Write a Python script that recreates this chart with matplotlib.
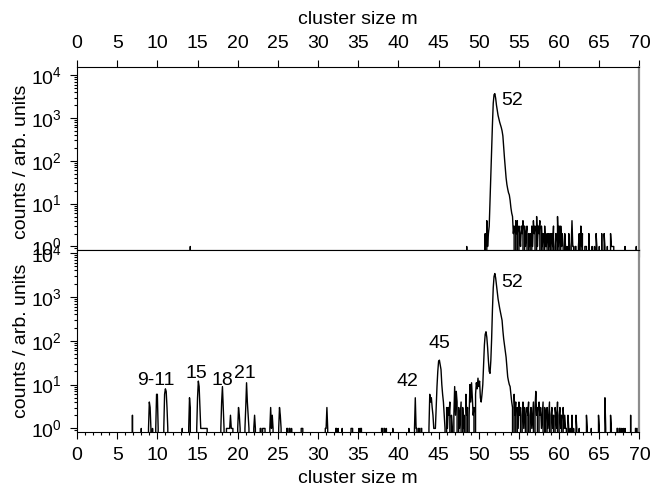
import numpy as np
import matplotlib
matplotlib.use("Agg")
import matplotlib.pyplot as plt
from matplotlib.ticker import MultipleLocator, LogLocator, NullFormatter

plt.rcParams["font.family"] = "Liberation Sans"
plt.rcParams["mathtext.fontset"] = "custom"
plt.rcParams["mathtext.rm"] = "Liberation Sans"
plt.rcParams["mathtext.it"] = "Liberation Sans:italic"
plt.rcParams["mathtext.bf"] = "Liberation Sans:bold"

# mass axis: 0.1 bins from 0 to 70
mass = np.arange(701) / 10.0

# --- upper spectrum: runs of (first mass, counts per 0.1 bin) ---
top_isolated = [(14.1, [1]), (48.5, [1]), (68.2, [1]), (69.6, [1])]
top_peak = (50.8, [2, 0, 4, 1, 2, 3, 12, 50, 180, 700, 2200, 3500, 3700, 2900,
                   2000, 1500, 1150, 950, 800, 690, 600, 500, 380, 200, 115, 70,
                   40, 28, 22, 18, 16, 12, 8, 6, 5, 2])
top_tail = (54.4, [3, 0, 4, 2, 4, 0, 3, 2, 1, 3,
                   2, 4, 0, 3, 1, 2, 3, 0, 2, 1,
                   2, 0, 3, 1, 4, 2, 3, 0, 5, 1,
                   3, 2, 4, 0, 3, 1, 2, 0, 3, 1,
                   1, 2, 0, 2, 1, 2, 0, 2, 1, 3,
                   0, 1, 2, 0, 5, 1, 3, 0, 3, 1,
                   2, 1, 0, 2, 1, 0, 1, 0, 2, 1,
                   0, 1, 4, 1, 1, 0, 1, 1, 0, 0,
                   1, 2, 0, 3, 1, 2, 0, 0, 1, 1,
                   1, 0, 0, 2, 0, 0, 0, 1, 0, 0,
                   1, 0, 2, 1, 0, 0, 1, 0, 0, 2,
                   0, 0, 2, 1, 0, 0, 1, 0, 0, 0,
                   2, 1, 1, 1, 1])

# --- lower spectrum ---
bottom_small = [(6.9, [2]), (8.0, [1]), (8.9, [1, 4, 3, 1]), (9.4, [1]),
                (9.8, [1, 6, 6, 1]), (10.8, [1, 6, 8, 7, 3, 1]), (13.1, [1]),
                (13.9, [1, 5, 3]),
                (14.9, [1, 5, 12, 9, 3, 1, 1, 1, 1, 1, 1, 1, 1, 1]),
                (17.9, [1, 4, 9, 3, 1]), (18.6, [1, 1, 1, 1, 1, 2, 1, 1, 1]),
                (20.0, [1, 3, 2, 1]), (20.9, [1, 3, 11, 4, 2, 1]),
                (22.0, [1, 2, 1]), (22.8, [1, 1, 0, 1, 1, 1, 1]),
                (24.0, [1, 3, 1, 2, 1]), (25.1, [1, 3, 2, 1]),
                (26.1, [1, 1, 0, 1, 1, 0, 1]), (27.9, [1, 1, 1]),
                (30.9, [1, 1, 3, 1]), (32.2, [1, 1, 0, 1]), (33.0, [1]),
                (34.1, [1, 1, 1]), (35.1, [1, 0, 1, 1]),
                (37.9, [1, 1, 0, 1, 1, 0, 1]), (39.3, [1]), (41.3, [1]),
                (42.0, [1, 5, 1, 1, 0, 1, 1, 0, 1, 1])]
bottom_mid = (43.8, [1, 6, 4, 5, 3, 2, 1, 1, 1, 3,
                     9, 20, 34, 36, 28, 22, 10, 6, 4, 2,
                     1, 0, 3, 1, 3, 2, 4, 0, 2, 1,
                     0, 2, 9, 2, 7, 4, 0, 3, 1, 2,
                     4, 0, 3, 1, 2, 0, 6, 2, 3, 0,
                     2, 10, 4, 11, 5, 2, 3, 0, 6, 11,
                     8, 14, 9, 12, 5, 4])
bottom_peak = (50.4, [6, 10, 30, 80, 140, 160, 120, 70, 35, 20, 18, 35, 110,
                      500, 1600, 2900, 3400, 2700, 1900, 1300, 900, 700, 550,
                      440, 360, 290, 170, 110, 80, 60, 42, 25, 15, 12, 10, 9,
                      6, 4])
bottom_tail = (54.2, [3, 0, 6, 2, 4, 0, 3, 1, 4, 2,
                      3, 0, 2, 4, 1, 3, 2, 0, 3, 2,
                      4, 0, 2, 3, 1, 2, 4, 0, 3, 7,
                      2, 3, 0, 4, 2, 3, 1, 2, 4, 0,
                      3, 2, 0, 3, 1, 2, 4, 0, 2, 3,
                      1, 2, 0, 3, 2, 1, 4, 0, 2, 3,
                      1, 2, 0, 3, 1, 2, 1, 1, 0, 2,
                      1, 0, 1, 0, 2, 0, 1, 0, 0, 2,
                      1, 0, 0, 1])
bottom_far = [(63.4, [2, 1]), (64.0, [1]), (64.9, [2, 1]), (65.7, [5, 1]),
              (66.4, [2, 1]), (67.2, [1, 1, 0, 1, 1, 0, 1, 0, 1, 0, 1]),
              (68.9, [2]), (69.5, [1, 1, 0, 1, 1, 1])]

top_labels = [("52", 54.2, 2600)]
bottom_labels = [("52", 54.2, 2100), ("45", 45.1, 85), ("42", 41.1, 12),
                 ("9-11", 9.85, 12.5), ("15", 14.8, 18), ("18", 18.1, 12.5),
                 ("21", 20.9, 17.5)]


def spectrum(runs):
    counts = np.zeros(len(mass))
    for start, vals in runs:
        i0 = int(round(start * 10))
        counts[i0:i0 + len(vals)] = vals
    return counts


top_counts = spectrum(top_isolated + [top_peak, top_tail])
bottom_counts = spectrum(bottom_small + [bottom_mid, bottom_peak, bottom_tail]
                         + bottom_far)

fig = plt.figure(figsize=(6.52, 4.9), dpi=100)
ax_top = fig.add_axes([0.1181, 0.4908, 0.8627, 0.3725])
ax_bot = fig.add_axes([0.1181, 0.1184, 0.8627, 0.3724])

FS = 14
for ax, counts, ylim in [(ax_top, top_counts, (0.85, 1.55e4)),
                         (ax_bot, bottom_counts, (0.83, 1.2e4))]:
    ax.plot(mass, counts, color="black", lw=1.0)
    ax.set_yscale("log")
    ax.set_xlim(0, 70)
    ax.set_ylim(*ylim)
    ax.xaxis.set_major_locator(MultipleLocator(5))
    ax.xaxis.set_minor_locator(MultipleLocator(1))
    ax.yaxis.set_major_locator(LogLocator(base=10, numticks=10))
    ax.yaxis.set_minor_locator(LogLocator(base=10, subs=np.arange(2, 10), numticks=20))
    ax.yaxis.set_minor_formatter(NullFormatter())
    ax.tick_params(axis="both", which="both", direction="out", labelsize=FS,
                   width=0.8, pad=6)
    ax.tick_params(axis="both", which="major", length=5)
    ax.tick_params(axis="both", which="minor", length=2.5)
    ax.tick_params(axis="y", right=False)
    for side in ["left", "top", "bottom"]:
        ax.spines[side].set_linewidth(0.8)
    ax.spines["right"].set_color("#8c8c8c")
    ax.spines["right"].set_linewidth(1.6)
    ax.set_ylabel("counts / arb. units", fontsize=FS)
    ax.yaxis.label.set_va("center")

ax_top.tick_params(axis="x", top=True, bottom=True, labeltop=True, labelbottom=False)
ax_top.xaxis.set_label_position("top")
ax_top.set_xlabel("cluster size m", fontsize=FS, labelpad=8)
ax_top.yaxis.set_label_coords(-0.098, 0.48)

ax_bot.tick_params(axis="x", top=False, bottom=True)
ax_bot.set_xlabel("cluster size m", fontsize=FS, labelpad=4)
ax_bot.yaxis.set_label_coords(-0.098, 0.5)

for ax, labels in [(ax_top, top_labels), (ax_bot, bottom_labels)]:
    for text, xm, yc in labels:
        ax.text(xm, yc, text, fontsize=FS, ha="center", va="center")

fig.savefig("out.png", dpi=100)
